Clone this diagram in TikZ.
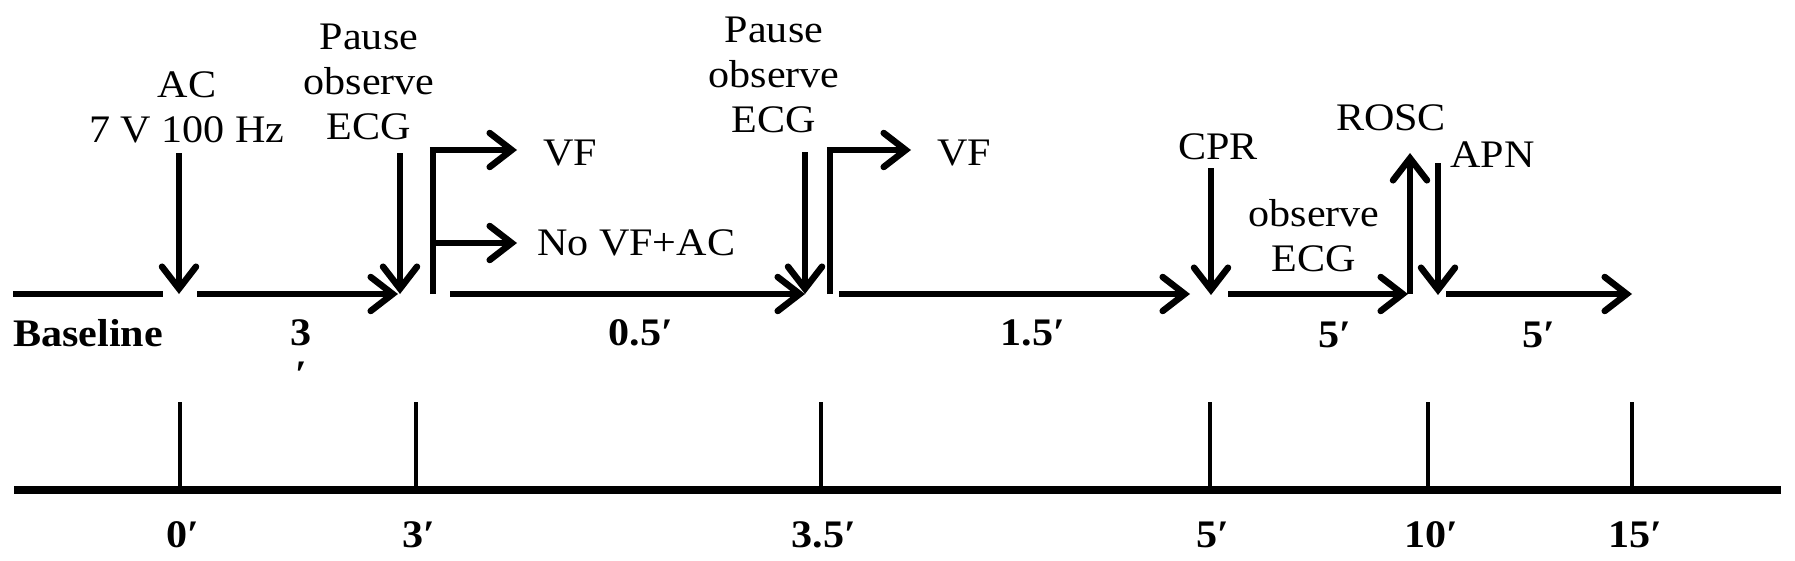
\documentclass[tikz,border=0pt]{standalone}
\usepackage{fontspec}
\setmainfont{Liberation Serif}[FakeStretch=1.08]
\usetikzlibrary{arrows.meta}
\begin{document}
\begin{tikzpicture}[x=1pt,y=-1pt,
  lbl/.style={inner sep=0pt, font=\fontsize{39}{45}\selectfont, align=center},
  tlbl/.style={inner sep=0pt, font=\fontsize{39}{42}\selectfont\bfseries, align=center},
  arr/.style={line width=6.5pt, -{Straight Barb[length=22pt,width=34pt,line cap=round]}},
  seg/.style={line width=6.5pt},
  tickline/.style={line width=3.5pt},
  axisline/.style={line width=8pt}]
\useasboundingbox (0,0) rectangle (1795,560);

% ---------- upper timeline ----------
\coordinate (s0a) at (13,294);   \coordinate (s0b) at (163,294);
\coordinate (s1a) at (197,294);  \coordinate (s1b) at (398,294);
\coordinate (s2a) at (450,294);  \coordinate (s2b) at (805,294);
\coordinate (s3a) at (839,294);  \coordinate (s3b) at (1190,294);
\coordinate (s4a) at (1228,294); \coordinate (s4b) at (1408,294);
\coordinate (s5a) at (1446,294); \coordinate (s5b) at (1632,294);

\draw[seg] (s0a) -- (s0b);
\draw[arr] (s1a) -- (s1b);
\draw[arr] (s2a) -- (s2b);
\draw[arr] (s3a) -- (s3b);
\draw[arr] (s4a) -- (s4b);
\draw[arr] (s5a) -- (s5b);

% event labels
\node[lbl] (ac) at (187,107) {AC\\7 V 100 Hz};
\node[lbl] (p1) at (369,82) {Pause\\observe\\ECG};
\node[lbl] (p2) at (774,75) {Pause\\observe\\ECG};
\node[lbl] (cpr) at (1218,147) {CPR};
\node[lbl] (rosc) at (1391,118) {ROSC};
\node[lbl, anchor=west] (apn) at (1450,155) {APN};
\node[lbl] (obs) at (1314,236) {observe\\ECG};
\node[lbl, anchor=west] (vf1) at (543,153) {VF};
\node[lbl, anchor=west] (novf) at (537,243) {No VF+AC};
\node[lbl, anchor=west] (vf2) at (937,153) {VF};

% down / up arrows
\coordinate (acA) at (179,153);  \coordinate (acB) at (179,294);
\coordinate (p1A) at (400,153);  \coordinate (p1B) at (400,294);
\coordinate (p2A) at (805,152);  \coordinate (p2B) at (805,294);
\coordinate (cprA) at (1211,168); \coordinate (cprB) at (1211,295);
\coordinate (apnA) at (1438,163); \coordinate (apnB) at (1438,295);
\coordinate (roA) at (1410,294); \coordinate (roB) at (1410,153);
\draw[arr] (acA) -- (acB);
\draw[arr] (p1A) -- (p1B);
\draw[arr] (p2A) -- (p2B);
\draw[arr] (cprA) -- (cprB);
\draw[arr] (apnA) -- (apnB);
\draw[arr] (roA) -- (roB);

% branch bars
\coordinate (b1bot) at (433,294); \coordinate (b1top) at (433,150);
\coordinate (b1mid) at (433,243);
\coordinate (vf1e) at (517,150);  \coordinate (novfe) at (517,243);
\draw[seg] (b1bot) -- (b1top);
\draw[arr] ([xshift=-3.25pt]b1top) -- (vf1e);
\draw[arr] (b1mid) -- (novfe);
\coordinate (b2bot) at (830,294); \coordinate (b2top) at (830,150);
\coordinate (vf2e) at (911,150);
\draw[seg] (b2bot) -- (b2top);
\draw[arr] ([xshift=-3.25pt]b2top) -- (vf2e);

% interval labels
\node[tlbl, anchor=west] (bl) at (13,333) {Baseline};
\node[tlbl] (d1) at (301,354) {3\\′};
\node[tlbl] (d2) at (641,333) {0.5′};
\node[tlbl] (d3) at (1033,333) {1.5′};
\node[tlbl] (d4) at (1335,335) {5′};
\node[tlbl] (d5) at (1539,335) {5′};

% ---------- lower axis ----------
\coordinate (axA) at (14,490); \coordinate (axB) at (1781,490);
\draw[axisline] (axA) -- (axB);
\foreach \x/\n/\t in {180/k0/0′, 416/k3/3′, 821/k35/3.5′, 1210/k5/5′, 1428/k10/10′, 1632/k15/15′}{
  \coordinate (\n top) at (\x,402);
  \coordinate (\n bot) at (\x,490);
  \draw[tickline] (\n top) -- (\n bot);
  \node[tlbl] (\n lab) at (\x+3,535) {\t};
}
\end{tikzpicture}
\end{document}
